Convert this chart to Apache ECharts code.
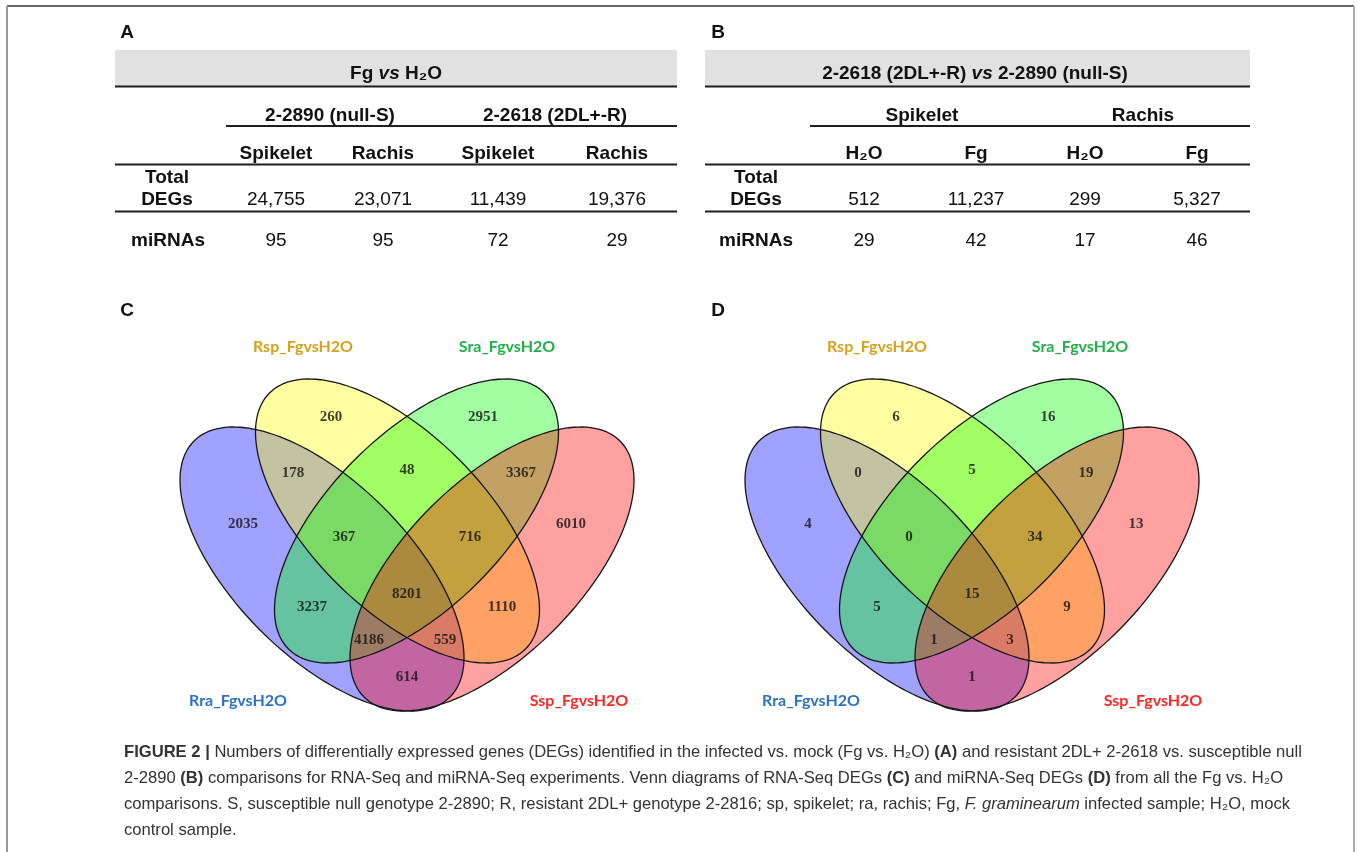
<!DOCTYPE html>
<html><head><meta charset="utf-8">
<script src="https://cdn.jsdelivr.net/npm/echarts@6/dist/echarts.min.js"></script>
<style>html,body{margin:0;padding:0;background:#fff}#c{width:1358px;height:852px}</style>
</head><body><div id="c"></div>
<script>
// ---------- DATA ----------
// Table A: Fg vs H2O
const tableATitle = 'Fg {i|vs} H₂O';
const tableAGroups = ['2-2890 (null-S)', '2-2618 (2DL+-R)'];
const tableACols = ['Spikelet', 'Rachis', 'Spikelet', 'Rachis'];
const tableADEGs = ['24,755', '23,071', '11,439', '19,376'];
const tableAmiRNAs = [95, 95, 72, 29];
// Table B: 2-2618 vs 2-2890
const tableBTitle = '2-2618 (2DL+-R) {i|vs} 2-2890 (null-S)';
const tableBGroups = ['Spikelet', 'Rachis'];
const tableBCols = ['H₂O', 'Fg', 'H₂O', 'Fg'];
const tableBDEGs = ['512', '11,237', '299', '5,327'];
const tableBmiRNAs = [29, 42, 17, 46];
// Venn diagrams
const vennSets = ['Rra_FgvsH2O', 'Rsp_FgvsH2O', 'Sra_FgvsH2O', 'Ssp_FgvsH2O'];
const vennRegions = ['A', 'B', 'C', 'D', 'AB', 'BC', 'CD', 'ABC', 'BCD', 'ABCD', 'AC', 'BD', 'ACD', 'ABD', 'AD'];
const vennC = [2035, 260, 2951, 6010, 178, 48, 3367, 367, 716, 8201, 3237, 1110, 4186, 559, 614];
const vennD = [4, 6, 16, 13, 0, 5, 19, 0, 34, 15, 5, 9, 1, 3, 1];

// ---------- LAYOUT ----------
const regionPos = {
  A: [-164, -21], B: [-76, -128], C: [76, -128], D: [164, -21],
  AB: [-114, -72], BC: [0, -75], CD: [114, -72],
  ABC: [-63, -8], BCD: [63, -8], ABCD: [0, 49],
  AC: [-95, 62], BD: [95, 62], ACD: [-38, 95], ABD: [38, 95], AD: [0, 132]
};
const ellipses = [
  { cx: -85, cy: 24, a: 181, b: 87, rot: 45, fill: 'rgba(0,0,255,0.37)' },
  { cx: -9.5, cy: -24, a: 181, b: 87, rot: 45, fill: 'rgba(255,255,0,0.37)' },
  { cx: 9.5, cy: -24, a: 181, b: 87, rot: -45, fill: 'rgba(0,255,0,0.37)' },
  { cx: 85, cy: 24, a: 181, b: 87, rot: -45, fill: 'rgba(255,0,0,0.37)' }
];
const setColors = ['#2e72c4', '#d6a21c', '#22b04a', '#ff2626'];
const setLabelPos = [
  [[238, 701], [303, 347], [507, 347], [579, 701]],
  [[811, 701], [877, 347], [1080, 347], [1153, 701]]
];

const SANS = 'Liberation Sans';
const FS = 19;
const g = [];
function txt(x, y, text, opt) {
  g.push({ type: 'text', x: x, y: y, silent: true, z: 10,
    style: Object.assign({ text: text, fill: '#111', fontFamily: SANS, fontSize: FS, fontWeight: 'normal',
      align: 'center', verticalAlign: 'middle', textAlign: 'center', textVerticalAlign: 'middle' }, opt || {}) });
}
function hline(x1, x2, y, w, c) {
  g.push({ type: 'line', silent: true, z: 9, shape: { x1: x1, y1: y, x2: x2, y2: y }, style: { stroke: c || '#1e1e1e', lineWidth: w || 2 } });
}
function vline(x, y1, y2, w, c) {
  g.push({ type: 'line', silent: true, z: 9, shape: { x1: x, y1: y1, x2: x, y2: y2 }, style: { stroke: c, lineWidth: w } });
}
function rect(x, y, w, h, c) {
  g.push({ type: 'rect', silent: true, z: 8, shape: { x: x, y: y, width: w, height: h }, style: { fill: c } });
}
const B = { fontWeight: 'bold' };
const richTitle = { i: { fontStyle: 'italic', fontWeight: 'bold', fontFamily: SANS, fontSize: FS, fill: '#111' } };

// frame
hline(7, 1354, 6, 1.5, '#333');
vline(7, 6, 852, 2, '#999');
vline(1354, 6, 852, 2, '#aaa');

// panel letters
txt(127, 33, 'A', Object.assign({ fontSize: 19 }, B));
txt(718, 33, 'B', Object.assign({ fontSize: 19 }, B));
txt(127, 311, 'C', Object.assign({ fontSize: 19 }, B));
txt(718, 311, 'D', Object.assign({ fontSize: 19 }, B));

// Table A
(function () {
  const L = 115, R = 677, cols = [276, 383, 498, 617], groups = [330, 555], lab = 167;
  rect(L, 50, R - L, 36, '#e1e1e1');
  hline(L, R, 86.5, 2.2);
  txt(396, 74, tableATitle, Object.assign({ rich: richTitle }, B));
  tableAGroups.forEach((t, i) => txt(groups[i], 116, t, B));
  hline(226, R, 126, 2);
  tableACols.forEach((t, i) => txt(cols[i], 154, t, B));
  hline(L, R, 164.5, 2);
  txt(lab, 178, 'Total', B);
  txt(lab, 200, 'DEGs', B);
  tableADEGs.forEach((t, i) => txt(cols[i], 200, t));
  hline(L, R, 211.5, 2);
  txt(lab + 1, 241, 'miRNAs', B);
  tableAmiRNAs.forEach((t, i) => txt(cols[i], 241, String(t)));
})();
// Table B
(function () {
  const L = 705, R = 1250, cols = [864, 976, 1085, 1197], groups = [922, 1143], lab = 756;
  rect(L, 50, R - L, 36, '#e1e1e1');
  hline(L, R, 86.5, 2.2);
  txt(975, 74, tableBTitle, Object.assign({ rich: richTitle }, B));
  tableBGroups.forEach((t, i) => txt(groups[i], 116, t, B));
  hline(810, R, 126, 2);
  tableBCols.forEach((t, i) => txt(cols[i], 154, t, B));
  hline(L, R, 164.5, 2);
  txt(lab, 178, 'Total', B);
  txt(lab, 200, 'DEGs', B);
  tableBDEGs.forEach((t, i) => txt(cols[i], 200, t));
  hline(L, R, 211.5, 2);
  txt(lab, 241, 'miRNAs', B);
  tableBmiRNAs.forEach((t, i) => txt(cols[i], 241, String(t)));
})();

// Venn set names
setLabelPos.forEach(panel => panel.forEach((p, i) =>
  txt(p[0], p[1], vennSets[i], { fontFamily: 'Lato', fontWeight: 'bold', fontSize: 16, fill: setColors[i] })));

// Caption
const CFS = 16.6;
const capRich = {
  b: { fontWeight: 'bold', fontFamily: SANS, fontSize: CFS, fill: '#333' },
  i: { fontStyle: 'italic', fontFamily: SANS, fontSize: CFS, fill: '#333' }
};
const captionLines = [
  '{b|FIGURE 2 |} Numbers of differentially expressed genes (DEGs) identified in the infected vs. mock (Fg vs. H₂O) {b|(A)} and resistant 2DL+ 2-2618 vs. susceptible null',
  '2-2890 {b|(B)} comparisons for RNA-Seq and miRNA-Seq experiments. Venn diagrams of RNA-Seq DEGs {b|(C)} and miRNA-Seq DEGs {b|(D)} from all the Fg vs. H₂O',
  'comparisons. S, susceptible null genotype 2-2890; R, resistant 2DL+ genotype 2-2816; sp, spikelet; ra, rachis; Fg, {i|F. graminearum} infected sample; H₂O, mock',
  'control sample.'
];
captionLines.forEach((t, i) => txt(124, 752 + i * 26, t, { align: 'left', textAlign: 'left', fontSize: CFS, fill: '#333', rich: capRich }));

// ---------- CHART ----------
function ellipsePoints(api, e) {
  const pts = [], phi = e.rot * Math.PI / 180, N = 160;
  for (let k = 0; k < N; k++) {
    const t = k / N * 2 * Math.PI;
    const x = e.cx + e.a * Math.cos(t) * Math.cos(phi) - e.b * Math.sin(t) * Math.sin(phi);
    const y = e.cy + e.a * Math.cos(t) * Math.sin(phi) + e.b * Math.sin(t) * Math.cos(phi);
    pts.push(api.coord([x, y]));
  }
  return pts;
}
function vennSeries(gi, values) {
  const setData = vennSets.map((s, i) => [i]);
  return [
    { type: 'custom', xAxisIndex: gi, yAxisIndex: gi, z: 1, silent: true, data: setData,
      renderItem: (params, api) => {
        const e = ellipses[api.value(0)];
        return { type: 'polygon', shape: { points: ellipsePoints(api, e) }, style: { fill: e.fill, stroke: null } };
      } },
    { type: 'custom', xAxisIndex: gi, yAxisIndex: gi, z: 2, silent: true, data: setData,
      renderItem: (params, api) => {
        const e = ellipses[api.value(0)];
        return { type: 'polygon', shape: { points: ellipsePoints(api, e) }, style: { fill: 'none', stroke: '#151515', lineWidth: 1.3 } };
      } },
    { type: 'scatter', xAxisIndex: gi, yAxisIndex: gi, z: 3, silent: true, symbolSize: 2,
      itemStyle: { color: 'rgba(0,0,0,0)' },
      data: vennRegions.map((r, i) => [regionPos[r][0], regionPos[r][1], values[i]]),
      label: { show: true, position: 'inside', formatter: p => String(p.value[2]),
        fontFamily: 'Liberation Serif', fontWeight: 'bold', fontSize: 15, color: '#111' } }
  ];
}

const chart = echarts.init(document.getElementById('c'), null, { renderer: 'canvas' });
chart.setOption({
  animation: false,
  backgroundColor: '#fff',
  grid: [
    { left: 157, top: 345, width: 500, height: 400 },
    { left: 722, top: 345, width: 500, height: 400 }
  ],
  xAxis: [
    { gridIndex: 0, type: 'value', min: -250, max: 250, show: false },
    { gridIndex: 1, type: 'value', min: -250, max: 250, show: false }
  ],
  yAxis: [
    { gridIndex: 0, type: 'value', min: -200, max: 200, inverse: true, show: false },
    { gridIndex: 1, type: 'value', min: -200, max: 200, inverse: true, show: false }
  ],
  series: [].concat(vennSeries(0, vennC), vennSeries(1, vennD)),
  graphic: { elements: g }
});
</script>
</body></html>
